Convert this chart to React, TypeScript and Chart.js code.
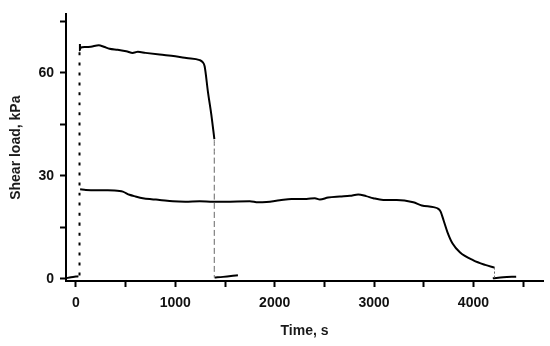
import React, { useEffect, useRef } from "react";
import { Chart, registerables } from "chart.js";

Chart.register(...registerables);

// ---- data (time in s, shear load in kPa) ----
const preTime = [-100, -50, 25];
const preLoad = [0.2, 0.5, 0.8];

const startLineTime = [36, 36];
const startLineLoad = [1, 67.2];

const test1Time = [40, 40, 45, 90, 150, 230, 280, 338, 420, 506, 573, 600, 623, 700, 842, 1000, 1111, 1245, 1275, 1295, 1329, 1363, 1393];
const test1Load = [68.4, 66.6, 67.3, 67.5, 67.6, 68.0, 67.6, 67.0, 66.7, 66.3, 65.8, 66.0, 66.1, 65.8, 65.3, 64.8, 64.3, 63.7, 63.1, 61.9, 54.3, 47.7, 40.7];

const drop1Time = [1392, 1392];
const drop1Load = [40.5, 0.4];

const after1Time = [1395, 1480, 1630];
const after1Load = [0.4, 0.6, 1.1];

const test2Time = [42, 100, 300, 438, 472, 539, 600, 673, 760, 842, 976, 1100, 1245, 1379, 1500, 1749, 1833, 1917, 2051, 2169, 2320, 2404, 2455, 2538, 2656, 2757, 2841, 2920, 2992, 3093, 3228, 3395, 3480, 3597, 3647, 3670, 3700, 3740, 3790, 3866, 4000, 4118, 4212];
const test2Load = [26.1, 25.9, 25.8, 25.6, 25.4, 24.5, 24.0, 23.5, 23.2, 23.0, 22.6, 22.5, 22.6, 22.5, 22.5, 22.6, 22.3, 22.4, 22.9, 23.3, 23.3, 23.5, 23.1, 23.7, 24.0, 24.2, 24.6, 24.1, 23.5, 23.0, 23.0, 22.3, 21.4, 20.9, 20.4, 19.6, 17.0, 13.5, 10.3, 7.7, 5.4, 4.1, 3.3];

const drop2Time = [4212, 4212];
const drop2Load = [3.3, 0.3];

const after2Time = [4195, 4300, 4430];
const after2Load = [0.2, 0.5, 0.65];

const xTickValues = [0, 500, 1000, 1500, 2000, 2500, 3000, 3500, 4000, 4500];
const yTickValues = [0, 15, 30, 45, 60, 75];

const pts = (xs: number[], ys: number[]) => xs.map((x, i) => ({ x, y: ys[i] }));

const FONT = { family: "'Liberation Sans', Arial, sans-serif", size: 14, weight: "bold" as const };

export default function App() {
  const ref = useRef<HTMLCanvasElement | null>(null);

  useEffect(() => {
    if (!ref.current) return;
    const solid = (data: any[], width = 2) => ({
      data,
      borderColor: "#000",
      borderWidth: width,
      pointRadius: 0,
      fill: false,
      cubicInterpolationMode: "monotone" as const,
    });
    const chart = new Chart(ref.current, {
      type: "line",
      data: {
        datasets: [
          solid(pts(preTime, preLoad)),
          { ...solid(pts(startLineTime, startLineLoad)), borderDash: [3, 7] },
          solid(pts(test1Time, test1Load)),
          { ...solid(pts(drop1Time, drop1Load), 1), borderColor: "#666", borderDash: [6, 3] },
          solid(pts(after1Time, after1Load)),
          solid(pts(test2Time, test2Load)),
          { ...solid(pts(drop2Time, drop2Load), 1), borderColor: "#666", borderDash: [2, 2] },
          solid(pts(after2Time, after2Load)),
        ],
      },
      options: {
        responsive: false,
        animation: false,
        plugins: { legend: { display: false }, tooltip: { enabled: false } },
        layout: { padding: { top: 7, right: 7, left: 0, bottom: 0 } },
        scales: {
          x: {
            type: "linear",
            min: -100,
            max: 4700,
            border: { display: true, color: "#000", width: 2 },
            grid: { display: true, drawOnChartArea: false, drawTicks: true, tickLength: 6, tickWidth: 2, tickColor: "#000" },
            afterBuildTicks: (s: any) => {
              s.ticks = xTickValues.map((v) => ({ value: v }));
            },
            afterFit: (s: any) => {
              s.height = 65;
            },
            ticks: {
              autoSkip: false,
              maxRotation: 0,
              padding: 8,
              color: "#111",
              font: FONT,
              callback: (v: any) => (Number(v) % 1000 === 0 ? String(v) : ""),
            },
            title: { display: true, text: "Time, s", color: "#1a1a1a", font: FONT, padding: { top: 0, bottom: 6 } },
          },
          y: {
            type: "linear",
            min: -0.6,
            max: 77,
            border: { display: true, color: "#000", width: 2 },
            grid: { display: true, drawOnChartArea: false, drawTicks: true, tickLength: 6, tickWidth: 2, tickColor: "#000" },
            afterBuildTicks: (s: any) => {
              s.ticks = yTickValues.map((v) => ({ value: v }));
            },
            afterFit: (s: any) => {
              s.width = 66;
            },
            ticks: {
              autoSkip: false,
              padding: 6,
              color: "#111",
              font: FONT,
              callback: (v: any) => (Number(v) % 30 === 0 ? String(v) : ""),
            },
            title: { display: true, text: "Shear load, kPa", color: "#1a1a1a", font: FONT, padding: { top: 8, bottom: 0 } },
          },
        },
      },
    });
    return () => chart.destroy();
  }, []);

  return (
    <div style={{ position: "absolute", left: 0, top: 0, width: 550, height: 346, background: "#fff" }}>
      <canvas ref={ref} width={550} height={346} style={{ display: "block" }} />
    </div>
  );
}
